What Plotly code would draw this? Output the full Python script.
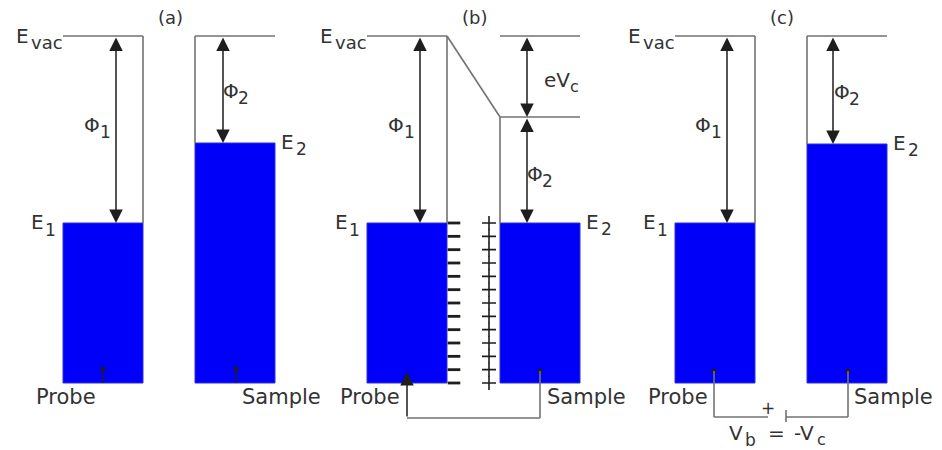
import numpy as np
import plotly.graph_objects as go

# ---- diagram data (energy levels / block extents in diagram units) ----
panel_labels = ["(a)", "(b)", "(c)"]
probe_left = [63, 367, 675]
probe_right = [143, 447, 755]
sample_left = [195, 500, 807]
sample_right = [275, 580, 887]
vac_level = [36, 36, 36]          # E_vac of probe
sample_vac_level = [36, 117, 36]  # local vacuum level of sample
e1_level = [223, 223, 223]
e2_level = [143, 223, 144]
base_level = 383
phi1_x = [116, 420, 727]
phi2_x = [223, 527, 833]
n_charges = 13

GRAY = "#727272"
DARK = "#1e1e1e"
TXT = "#333333"
BLUE = "#0000fa"
FONT = "DejaVu Sans"

fig = go.Figure()

def line(x0, y0, x1, y1, color=GRAY, w=1.6):
    fig.add_shape(type="line", x0=x0, y0=y0, x1=x1, y1=y1,
                  line=dict(color=color, width=w), layer="above")

def box(x0, x1, ytop):
    fig.add_shape(type="rect", x0=x0, x1=x1, y0=ytop, y1=base_level,
                  fillcolor=BLUE, line=dict(color="#3030d0", width=1), layer="below")

def text(x, base, s, size=20, xa="left"):
    fig.add_annotation(x=x - (1 if xa == "left" else 0), y=base - 0.346 * size, text=s,
                       showarrow=False, xanchor=xa, yanchor="middle",
                       borderpad=0, borderwidth=0,
                       font=dict(family=FONT, size=size, color=TXT))

def sublabel(x, base, main, sub, sub_dx, size=20, subsize=17, sub_dy=6):
    text(x, base, main, size)
    text(x + sub_dx, base + sub_dy, sub, subsize)

AW, AS = 1.5, 1.8

def arrow(x, y_from, y_to, double=True):
    kw = dict(x=x, y=y_to, ax=x, ay=y_from, xref="x", yref="y", axref="x", ayref="y",
              text="", showarrow=True, arrowhead=2, arrowsize=AS, arrowwidth=AW,
              arrowcolor=DARK, standoff=0, startstandoff=0)
    if double:
        kw.update(arrowside="end+start", startarrowhead=2, startarrowsize=AS)
    fig.add_annotation(**kw)

for i in range(3):
    pl, pr, sl, sr = probe_left[i], probe_right[i], sample_left[i], sample_right[i]
    ev, sev, e1, e2 = vac_level[i], sample_vac_level[i], e1_level[i], e2_level[i]
    box(pl, pr, e1)
    box(sl, sr, e2)
    line(pl, ev, pr, ev)
    line(pr, ev, pr, e1)
    line(sl, sev, sr, sev)
    line(sl, sev, sl, e2)
    arrow(phi1_x[i], ev, e1)
    arrow(phi2_x[i], sev, e2)
    cx = (pr + sl) / 2
    text(cx + 1, 24, panel_labels[i], size=18, xa="center")
    sublabel(pl - 46, ev + 7, "E", "vac", 15, subsize=18, sub_dy=6)
    sublabel(phi1_x[i] - 31, 132, "Φ", "1", 16)
    sublabel(pl - 31, e1 + 6, "E", "1", 14, sub_dy=7)
    sublabel(sr + 7, e2 + 6, "E", "2", 15)
    text(pl + 3, 404, "Probe", size=21, xa="center")
    text(sr + 6, 404, "Sample", size=21, xa="center")

# Phi2 labels
sublabel(phi2_x[0] + 1, 98, "Φ", "2", 15)
sublabel(phi2_x[2] + 2, 99, "Φ", "2", 15)
sublabel(phi2_x[1] + 1, 181, "Φ", "2", 15)

# ---- panel (a) contact dots ----
fig.add_trace(go.Scatter(x=[103, 236], y=[369, 369], mode="markers",
                         marker=dict(color=DARK, size=5), hoverinfo="skip"))
line(103, 369, 103, base_level, color=DARK, w=1.4)
line(236, 369, 236, base_level, color=DARK, w=1.4)

# ---- panel (b): contact potential ----
line(probe_right[1], vac_level[1], sample_left[1], sample_vac_level[1])
line(sample_left[1], vac_level[1], sample_right[1], vac_level[1])
arrow(phi2_x[1], vac_level[1], sample_vac_level[1])
sublabel(phi2_x[1] + 18, 87, "eV", "c", 26, subsize=16, sub_dy=5)
ys = np.linspace(e1_level[1], base_level, n_charges)
fig.add_trace(go.Scatter(x=[454] * n_charges, y=ys, mode="markers", hoverinfo="skip",
                         marker=dict(symbol="line-ew", size=9, line=dict(color=DARK, width=2.8))))
fig.add_trace(go.Scatter(x=[489] * n_charges, y=ys, mode="markers", hoverinfo="skip",
                         marker=dict(symbol="cross-thin", size=10, line=dict(color=DARK, width=1.6))))
# circuit
fig.add_trace(go.Scatter(x=[540], y=[371], mode="markers",
                         marker=dict(color=DARK, size=5), hoverinfo="skip"))
line(407, 418, 540, 418)
line(540, 418, 540, 371)
fig.add_annotation(x=407, y=372, ax=407, ay=418, xref="x", yref="y", axref="x", ayref="y",
                   text="", showarrow=True, arrowhead=2, arrowsize=AS, arrowwidth=AW,
                   arrowcolor=DARK, standoff=0)

# ---- panel (c): backing voltage circuit ----
fig.add_trace(go.Scatter(x=[714, 848], y=[371, 371], mode="markers",
                         marker=dict(color=DARK, size=5), hoverinfo="skip"))
line(714, 371, 714, 417)
line(714, 417, 768, 417)
line(786, 410, 786, 422)
line(786, 417, 848, 417)
line(848, 417, 848, 371)
text(768, 414, "+", size=17, xa="center")
sublabel(730, 440, "V", "b", 16)
text(776, 440, "=", size=20, xa="center")
sublabel(795, 440, "-V", "c", 23, subsize=16, sub_dy=5)

fig.update_layout(
    width=942, height=450, margin=dict(l=0, r=0, t=0, b=0),
    paper_bgcolor="white", plot_bgcolor="white", showlegend=False,
    xaxis=dict(range=[8, 950], visible=False, fixedrange=True),
    yaxis=dict(range=[458, 8], visible=False, fixedrange=True),
)
fig.write_html("out.html")
